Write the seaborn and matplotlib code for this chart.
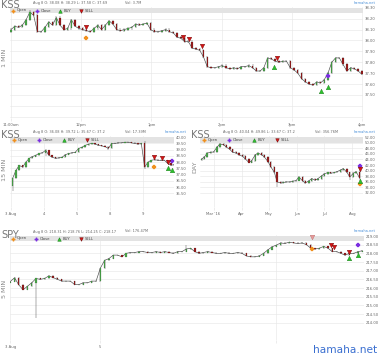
import numpy as np
import pandas as pd
import matplotlib
matplotlib.use("Agg")
import matplotlib.pyplot as plt
from matplotlib.patches import Rectangle
from matplotlib.lines import Line2D
import seaborn as sns

# ---------------- data ----------------
# KSS 1-minute closes, Aug 9, 11:00am -> 4pm
kss_1m_close = [
    38.10, 38.13, 38.12, 38.14, 38.19, 38.26, 38.23, 38.08, 38.08, 38.12,
    38.17, 38.14, 38.21, 38.14, 38.10, 38.11, 38.19, 38.13, 38.11, 38.10,
    38.09, 38.08, 38.11, 38.14, 38.10, 38.14, 38.18, 38.15, 38.10, 38.09,
    38.10, 38.11, 38.12, 38.15, 38.14, 38.15, 38.16, 38.10, 38.08, 38.08,
    38.09, 38.10, 38.08, 38.07, 38.03, 38.02, 37.99,
    37.99, 37.93, 37.92, 37.91, 37.85, 37.76, 37.75, 37.75, 37.76, 37.77,
    37.75, 37.74, 37.75, 37.74, 37.76, 37.76, 37.77, 37.75, 37.72, 37.72,
    37.75, 37.84, 37.83, 37.81, 37.80, 37.81, 37.81, 37.75, 37.73, 37.70,
    37.65, 37.62, 37.60, 37.59, 37.62, 37.61, 37.64, 37.70, 37.80, 37.84,
    37.84, 37.78, 37.72, 37.75, 37.74, 37.72, 37.69,
]
kss_1m_first_open = 38.08
kss_1m_hour_labels = ["11:00am", "12pm", "1pm", "2pm", "3pm", "4pm"]
kss_1m_open_mark = ([64], [38.02])
kss_1m_close_mark = ([271], [37.67])
kss_1m_buy = ([225, 265, 271], [37.76, 37.54, 37.57])
kss_1m_sell = ([64, 147, 152, 163, 227], [38.12, 38.03, 38.01, 37.95, 37.84])

# KSS 15-minute closes, one list per day
kss_15m_day_labels = ["3 Aug", "4", "5", "8", "9"]
kss_15m_aug3 = [36.70, 37.34, 37.74, 37.60, 38.00, 38.30, 38.45, 38.55, 38.70, 38.75]
kss_15m_aug4 = [38.95, 38.55, 38.40, 38.30, 38.35, 38.40, 38.60, 38.70, 38.75, 38.80]
kss_15m_aug5 = [39.10, 39.20, 39.35, 39.45, 39.50, 39.45, 39.35, 39.30, 39.25, 39.10]
kss_15m_aug8 = [39.50, 39.50, 39.55, 39.55, 39.60, 39.60, 39.55, 39.50, 39.45, 39.50]
kss_15m_aug9 = [37.60, 38.00, 38.15, 38.20, 38.15, 38.15, 38.15, 37.90, 37.75, 37.80]
kss_15m_first_open = 36.08
kss_15m_open_mark = ([4.33], [37.58])
kss_15m_close_mark = ([4.87], [38.07])
kss_15m_buy = ([4.75, 4.87], [37.50, 37.34])
kss_15m_sell = ([4.33, 4.57, 4.75], [38.39, 38.31, 37.98])

# KSS daily closes, Feb 17 2016 -> Aug 9 2016
kss_day_close = [
    44.2, 44.9, 46.3, 46.6, 46.7, 48.5, 49.6, 49.3, 48.5, 47.6,
    46.6, 46.3, 45.7, 45.1, 44.2, 42.9, 43.6, 45.7, 46.3, 45.7,
    44.9, 43.2, 41.4, 39.3, 35.9, 35.5, 35.7, 35.9, 35.9, 36.1,
    36.4, 37.7, 36.3, 35.5, 36.3, 37.1, 36.5, 37.1, 38.1, 38.8,
    39.3, 39.0, 39.3, 39.6, 40.2, 40.7, 39.3, 37.7, 39.0, 39.6, 37.2,
]
kss_day_first_open = 43.8
kss_day_month_labels = ["Mar '16", "Apr", "May", "Jun", "Jul", "Aug"]
kss_day_month_starts = ["2016-03-01", "2016-04-01", "2016-05-01", "2016-06-01", "2016-07-01", "2016-08-01"]
kss_day_open_mark = (["2016-08-09"], [35.1])
kss_day_close_mark = (["2016-08-09"], [41.6])
kss_day_buy = (["2016-08-09"], [36.2])
kss_day_sell = (["2016-08-09"], [40.5])

# SPY 5-minute closes
spy_5m_close = [
    216.37, 216.59, 216.18, 215.90, 216.10, 216.30, 216.55,
    216.50, 216.55, 216.70, 216.60, 216.50, 216.40, 216.40, 216.40, 216.20,
    216.20, 216.30, 216.30, 216.40, 216.40,
    217.15, 217.60, 217.70, 217.90, 217.90, 217.80, 218.00, 218.05, 218.05, 218.10,
    218.10, 218.05, 218.05, 218.10, 218.05, 218.10, 218.05, 218.00, 218.10, 218.10,
    218.25,
    218.30, 218.10, 218.00, 218.05, 218.10, 218.05, 218.00, 218.00, 218.05, 218.00,
    218.00, 218.05, 218.00, 217.85, 217.80, 217.80, 217.85, 218.00, 218.20, 218.38,
    218.48, 218.60, 218.57, 218.65, 218.60, 218.57, 218.60, 218.50, 218.30, 218.25,
    218.30, 218.40, 218.30, 218.10, 218.10, 218.00, 217.90, 218.00, 218.00, 218.10,
    218.15,
]
spy_5m_first_open = 216.30
spy_5m_tick_index = [0, 21, 62]
spy_5m_tick_labels = ["3 Aug", "5", ""]
spy_5m_open_mark = ([70.4], [218.27])
spy_5m_close_mark = ([81.0], [218.48])
spy_5m_buy = ([78.8, 81.0], [217.73, 217.90])
spy_5m_sell = ([74.6, 75.3, 78.8], [218.48, 218.39, 218.10])
spy_5m_sell_faded = ([70.4], [218.94])

# ---------------- style ----------------
sns.set_theme(style="white")
plt.rcParams["font.family"] = ["DejaVu Sans"]

W, H = 380, 358
fig = plt.figure(figsize=(W / 100, H / 100), dpi=100)
fig.patch.set_facecolor("white")

GREEN = "#4aa84a"
RED = "#981c1c"
WICK = "#3a3a3a"
GRID = "#e8e8e8"
TXT = "#666666"
FS = 2.7
HFS = 2.5
C_OPEN, C_CLOSE, C_BUY, C_SELL = "#f0901e", "#7b2fe0", "#2cc02c", "#d41515"


def rect(x0, y0, x1, y1):
    return [x0 / W, 1 - y1 / H, (x1 - x0) / W, (y1 - y0) / H]


def ftxt(x, y, s, **kw):
    kw.setdefault("color", TXT)
    kw.setdefault("fontsize", FS)
    kw.setdefault("va", "center")
    fig.text(x / W, 1 - y / H, s, **kw)


def fmark(x, y, marker, color, ms=3.0, ec=None):
    fig.add_artist(Line2D([x / W], [1 - y / H], marker=marker, color=color, ms=ms,
                          mec=ec or color, mew=0.3, ls="none", transform=fig.transFigure))


def candles(ax, x, close, first_open, width, ext, extra=None, minh=0.0):
    x = np.asarray(x, float)
    c = np.asarray(close, float)
    o = np.r_[first_open, c[:-1]]
    hi = np.maximum(o, c) + ext
    lo = np.minimum(o, c) - ext
    if extra:
        for i, (l, h) in extra.items():
            lo[i] = min(lo[i], l)
            hi[i] = max(hi[i], h)
    sns.lineplot(x=x, y=c, ax=ax, color="#4a4a4a", lw=0.45, zorder=2, legend=False)
    ax.vlines(x, lo, hi, color=WICK, lw=0.3, zorder=2)
    up = c >= o
    body = np.maximum(np.abs(c - o), minh)
    bot = np.minimum(o, c)
    ax.bar(x[up], body[up], bottom=bot[up], width=width, color=GREEN,
           edgecolor="#2a4a2a", linewidth=0.12, zorder=3)
    ax.bar(x[~up], body[~up], bottom=bot[~up], width=width, color=RED,
           edgecolor="#3a1010", linewidth=0.12, zorder=3)


def signals(ax, op, cl, buy, sell, s=11):
    sns.scatterplot(x=op[0], y=op[1], ax=ax, marker="P", color=C_OPEN, s=s,
                    edgecolor=C_OPEN, linewidth=0.2, zorder=6, legend=False)
    sns.scatterplot(x=cl[0], y=cl[1], ax=ax, marker="P", color=C_CLOSE, s=s,
                    edgecolor=C_CLOSE, linewidth=0.2, zorder=6, legend=False)
    sns.scatterplot(x=buy[0], y=buy[1], ax=ax, marker="^", color=C_BUY, s=s,
                    edgecolor="#137013", linewidth=0.25, zorder=6, legend=False)
    sns.scatterplot(x=sell[0], y=sell[1], ax=ax, marker="v", color=C_SELL, s=s,
                    edgecolor="#600000", linewidth=0.25, zorder=6, legend=False)


def setup(ax, px, xlim, ylim, yticks, ylabels, band):
    ax.set_xlim(*xlim)
    ax.set_ylim(*ylim)
    ax.set_yticks(yticks)
    ax.set_yticklabels(ylabels)
    ax.yaxis.tick_right()
    ax.grid(True, color=GRID, lw=0.45)
    ax.set_axisbelow(True)
    for sp in ax.spines.values():
        sp.set_visible(False)
    ax.tick_params(axis="y", right=True, length=0, pad=1.5, labelsize=FS, labelcolor=TXT)
    ax.tick_params(axis="x", bottom=True, length=2.5, width=0.4, color="#dddddd",
                   pad=1.2, labelsize=FS, labelcolor=TXT)
    ax.set_facecolor("none")
    x0, y0, x1, y1 = px
    b0, b1 = band
    ax.add_patch(Rectangle((0, (y1 - b1) / (y1 - y0)), 1, (b1 - b0) / (y1 - y0),
                           transform=ax.transAxes, color="#e3e3e3", lw=0, zorder=0.8))


def legend_row(y, xs):
    fmark(xs[0], y, "P", C_OPEN, 2.4)
    ftxt(xs[0] + 4, y, "Open", color="#444444")
    fmark(xs[1], y, "P", C_CLOSE, 2.4)
    ftxt(xs[1] + 4, y, "Close", color="#444444")
    fmark(xs[2], y, "^", C_BUY, 2.6, "#137013")
    ftxt(xs[2] + 4, y, "BUY", color="#444444")
    fmark(xs[3], y, "v", C_SELL, 2.6, "#600000")
    ftxt(xs[3] + 4, y, "SELL", color="#444444")


# ---------------- panel 1: KSS 1 MIN ----------------
p1 = (10, 7, 363, 118)
ax1 = fig.add_axes(rect(*p1))
n1 = len(kss_1m_close)
x1 = np.linspace(0, 300, n1)
candles(ax1, x1, kss_1m_close, kss_1m_first_open, 1.2, 0.01, extra={5: (38.2, 38.28)})
signals(ax1, kss_1m_open_mark, kss_1m_close_mark, kss_1m_buy, kss_1m_sell)
yt1 = np.round(np.arange(37.3, 38.31, 0.1), 2)
setup(ax1, p1, (-0.85, 300.9), (37.289, 38.307), yt1,
      ["" if v < 37.45 else f"{v:.2f}" for v in yt1], (8.3, 12.8))
ax1.set_xticks(np.arange(0, 301, 60))
ax1.set_xticklabels(kss_1m_hour_labels)

# ---------------- panel 2: KSS 15 MIN ----------------
p2 = (10, 136, 174, 207)
ax2 = fig.add_axes(rect(*p2))
days15 = [kss_15m_aug3, kss_15m_aug4, kss_15m_aug5, kss_15m_aug8, kss_15m_aug9]
x2 = np.concatenate([d + (np.arange(len(v)) + 0.5) / len(v) for d, v in enumerate(days15)])
c2 = np.concatenate(days15)
candles(ax2, x2, c2, kss_15m_first_open, 0.045, 0.04,
        extra={0: (35.67, 36.7), 10: (38.5, 39.05), 29: (38.95, 39.3), 40: (37.45, 39.72)})
signals(ax2, kss_15m_open_mark, kss_15m_close_mark, kss_15m_buy, kss_15m_sell)
yt2 = np.arange(35.5, 40.01, 0.5)
setup(ax2, p2, (-0.03, 4.94), (34.4, 40.1), yt2, [f"{v:.2f}" for v in yt2], (137.3, 142.8))
ax2.set_xticks(range(5))
ax2.set_xticklabels(kss_15m_day_labels)

# ---------------- panel 3: KSS DAY ----------------
p3 = (200, 136, 363, 207)
ax3 = fig.add_axes(rect(*p3))
ref = pd.Timestamp("2016-01-01")
dates3 = pd.date_range("2016-02-17", "2016-08-09", periods=len(kss_day_close))
x3 = np.asarray((dates3 - ref).days, float)
candles(ax3, x3, kss_day_close, kss_day_first_open, 1.5, 0.35,
        extra={24: (34.2, 39.3), 47: (36.5, 39.3), 50: (36.4, 41.0)})


def doy(lst):
    return [float((pd.Timestamp(d) - ref).days) for d in lst]


signals(ax3, (doy(kss_day_open_mark[0]), kss_day_open_mark[1]),
        (doy(kss_day_close_mark[0]), kss_day_close_mark[1]),
        (doy(kss_day_buy[0]), kss_day_buy[1]),
        (doy(kss_day_sell[0]), kss_day_sell[1]))
yt3 = np.arange(32, 52.1, 2)
setup(ax3, p3, (45.1, 224.6), (26.84, 52.47), yt3, [f"{v:.2f}" for v in yt3], (137.3, 142.8))
ax3.set_xticks(doy(kss_day_month_starts))
ax3.set_xticklabels(kss_day_month_labels)

# ---------------- panel 4: SPY 5 MIN ----------------
p4 = (10, 235, 364, 340)
ax4 = fig.add_axes(rect(*p4))
n4 = len(spy_5m_close)
x4 = np.arange(n4, dtype=float)
candles(ax4, x4, spy_5m_close, spy_5m_first_open, 0.32, 0.03,
        extra={6: (214.25, 216.6), 41: (218.1, 218.5)})
signals(ax4, spy_5m_open_mark, spy_5m_close_mark, spy_5m_buy, spy_5m_sell)
sns.scatterplot(x=spy_5m_sell_faded[0], y=spy_5m_sell_faded[1], ax=ax4, marker="v",
                color="#e89a9a", s=11, edgecolor="#b06060", linewidth=0.25, zorder=6, legend=False)
yt4 = np.arange(214.0, 219.01, 0.5)
setup(ax4, p4, (-0.05, n4 - 0.6), (213.0, 219.06), yt4, [f"{v:.2f}" for v in yt4], (236, 241))
ax4.set_xticks(spy_5m_tick_index)
ax4.set_xticklabels(spy_5m_tick_labels)

# ---------------- texts ----------------
HDR = "#666666"
ftxt(1, 5.5, "KSS", fontsize=7, color="#777777")
ftxt(33, 3.2, "Aug 8 O: 38.08 H: 38.29 L: 37.58 C: 37.69", color=HDR, fontsize=HFS)
ftxt(125, 3.2, "Vol: 3.7M", color=HDR, fontsize=HFS)
ftxt(376, 3.2, "hamaha.net", color="#4a90d9", ha="right", fontsize=2.6)
ftxt(5, 58, "1 MIN", rotation=90, fontsize=4.6, color="#888888", ha="center")
legend_row(10.5, [13, 37, 60, 81])

ftxt(1, 134.5, "KSS", fontsize=7, color="#777777")
ftxt(33, 132.5, "Aug 8 O: 36.08 H: 39.72 L: 35.67 C: 37.2", color=HDR, fontsize=HFS)
ftxt(125, 132.5, "Vol: 17.39M", color=HDR, fontsize=HFS)
ftxt(187, 132.5, "hamaha.net", color="#4a90d9", ha="right", fontsize=2.6)
ftxt(5, 170, "15 MIN", rotation=90, fontsize=4.6, color="#888888", ha="center")
legend_row(140, [14, 39, 64, 87])

ftxt(191, 134.5, "KSS", fontsize=7, color="#777777")
ftxt(223, 132.5, "Aug 8 O: 40.04 H: 49.86 L: 33.67 C: 37.2", color=HDR, fontsize=HFS)
ftxt(315, 132.5, "Vol: 356.76M", color=HDR, fontsize=HFS)
ftxt(376, 132.5, "hamaha.net", color="#4a90d9", ha="right", fontsize=2.6)
ftxt(195, 167, "DAY", rotation=90, fontsize=4.6, color="#888888", ha="center")
legend_row(140, [204, 229, 254, 277])

ftxt(1, 235, "SPY", fontsize=7, color="#777777")
ftxt(33, 231.5, "Aug 8 O: 218.31 H: 218.76 L: 214.25 C: 218.17", color=HDR, fontsize=HFS)
ftxt(125, 231.5, "Vol: 176.47M", color=HDR, fontsize=HFS)
ftxt(376, 231.5, "hamaha.net", color="#4a90d9", ha="right", fontsize=2.6)
ftxt(5, 289, "5 MIN", rotation=90, fontsize=4.6, color="#888888", ha="center")
legend_row(238.5, [13, 36, 59, 81])

ftxt(377, 350, "hamaha.net", fontsize=7.6, color="#3a6fd0", ha="right")

fig.savefig("out.png", dpi=100, facecolor="white")
